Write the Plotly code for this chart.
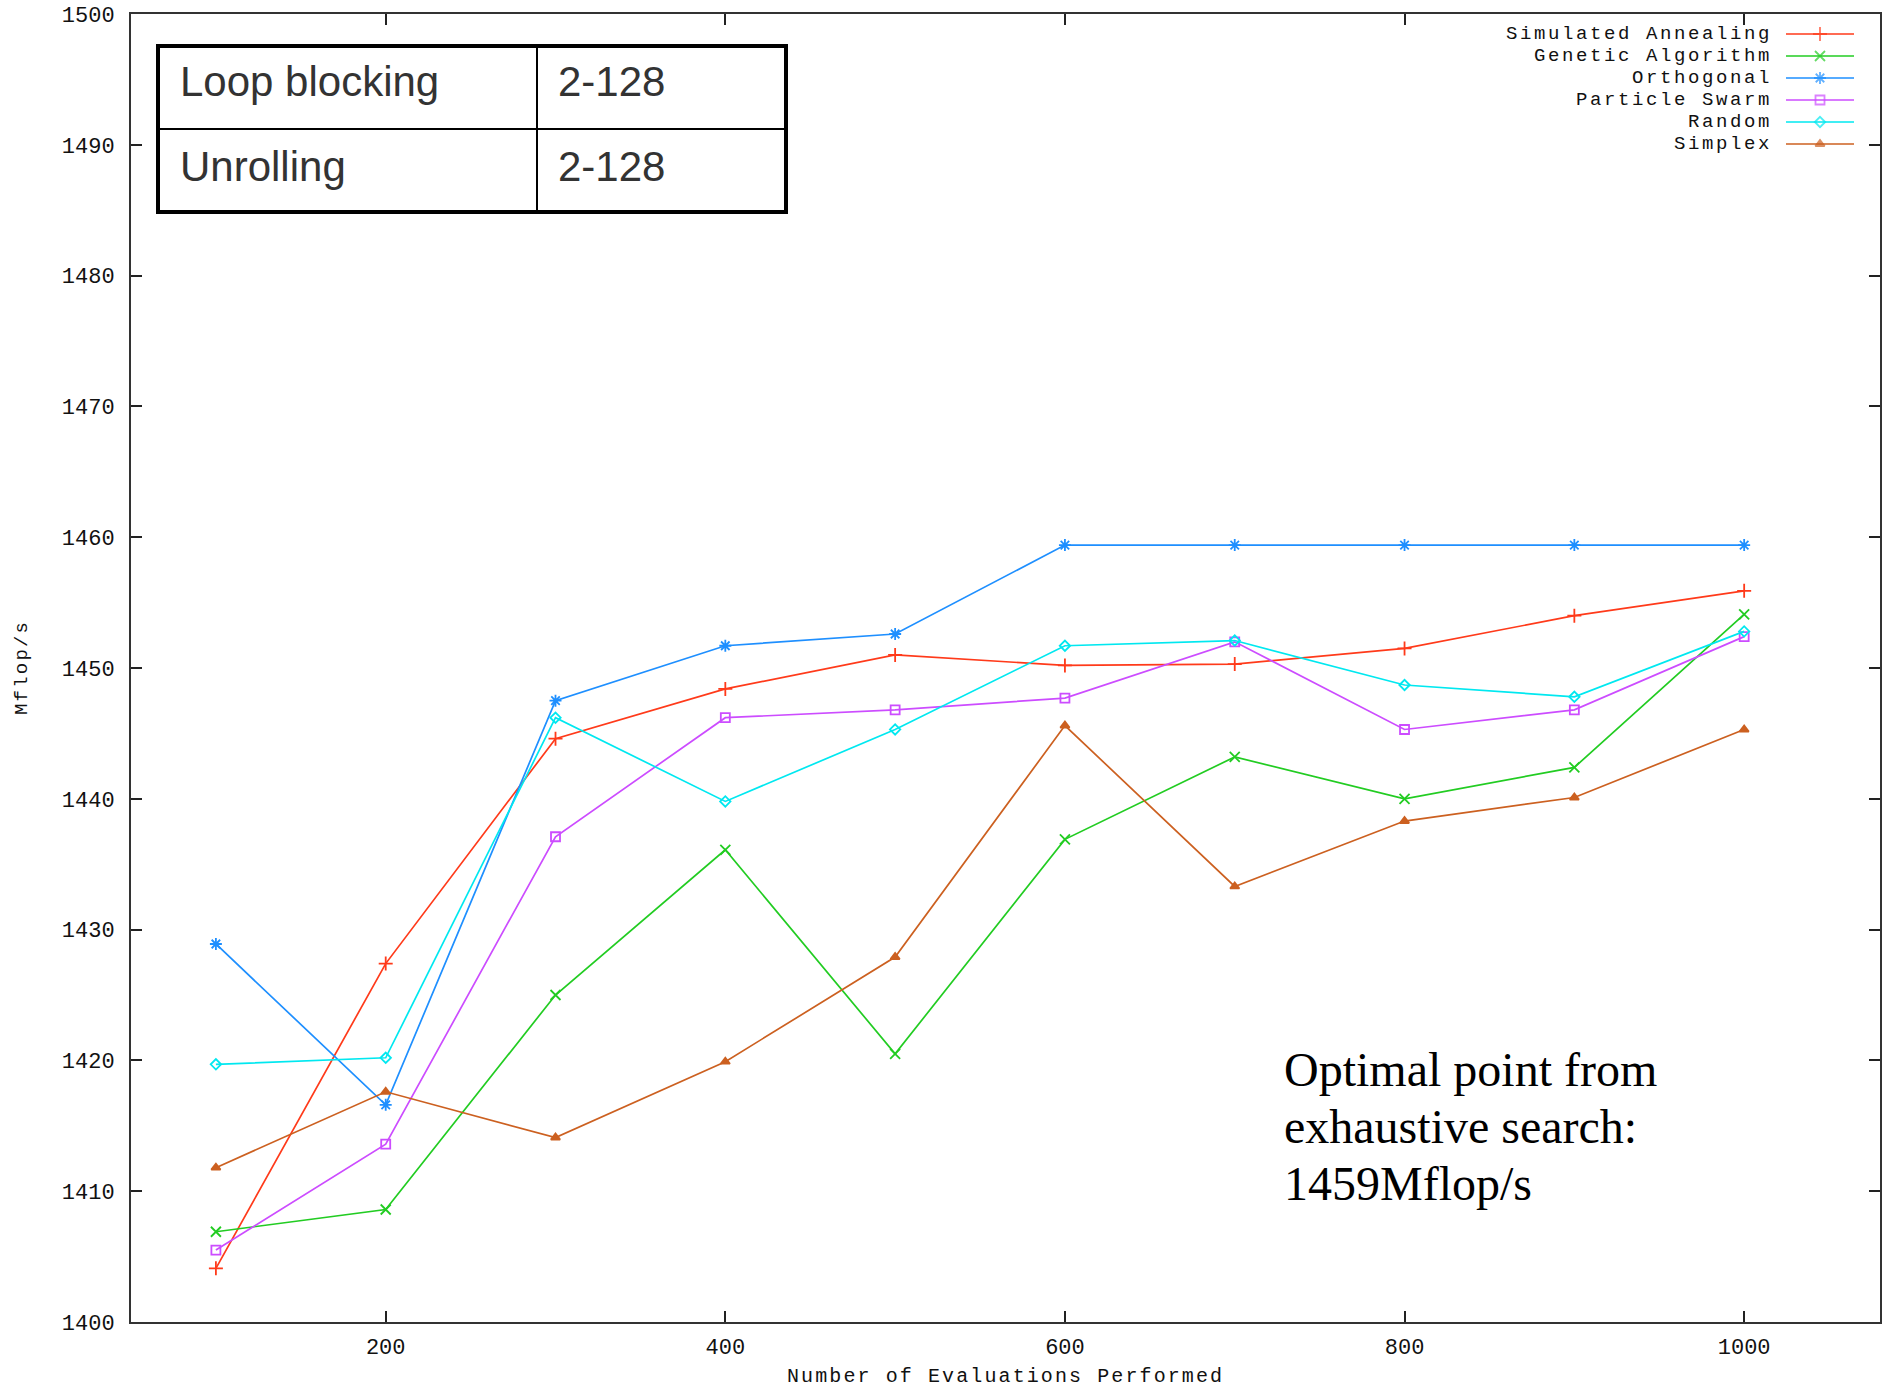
import plotly.graph_objects as go

# ---------------- data ----------------
evaluations = [100, 200, 300, 400, 500, 600, 700, 800, 900, 1000]

simulated_annealing = [1404.1, 1427.4, 1444.6, 1448.4, 1451.0, 1450.2, 1450.3, 1451.5, 1454.0, 1455.9]
genetic_algorithm   = [1406.9, 1408.6, 1425.0, 1436.1, 1420.5, 1436.9, 1443.2, 1440.0, 1442.4, 1454.1]
orthogonal          = [1428.9, 1416.6, 1447.5, 1451.7, 1452.6, 1459.4, 1459.4, 1459.4, 1459.4, 1459.4]
particle_swarm      = [1405.5, 1413.6, 1437.1, 1446.2, 1446.8, 1447.7, 1452.0, 1445.3, 1446.8, 1452.4]
random_search       = [1419.7, 1420.2, 1446.2, 1439.8, 1445.3, 1451.7, 1452.1, 1448.7, 1447.8, 1452.8]
simplex             = [1411.8, 1417.6, 1414.1, 1419.9, 1427.9, 1445.6, 1433.3, 1438.3, 1440.1, 1445.3]

series_names = ["Simulated Annealing", "Genetic Algorithm", "Orthogonal",
                "Particle Swarm", "Random", "Simplex"]
series_values = [simulated_annealing, genetic_algorithm, orthogonal,
                 particle_swarm, random_search, simplex]

x_ticks = [200, 400, 600, 800, 1000]
y_ticks = [1400, 1410, 1420, 1430, 1440, 1450, 1460, 1470, 1480, 1490, 1500]

table_rows = [["Loop blocking", "2-128"], ["Unrolling", "2-128"]]
note_lines = ["Optimal point from", "exhaustive search:", "1459Mflop/s"]

# ---------------- styles ----------------
colors = ["#ff3a1a", "#22cc22", "#1e8fff", "#cc4cff", "#00e8f0", "#cc6020"]
symbols = ["cross-thin-open", "x-thin-open", "asterisk-open", "square-open", "diamond-open", "triangle-up"]
msizes = [10, 10, 10, 9, 8, 8]

W, H = 1890, 1390
L, R, T, B = 131, 1880, 14, 1322   # plot area in pixels
MONO = "Liberation Mono, DejaVu Sans Mono, monospace"


def px(xp):
    return (xp - L) / (R - L)


def py(yp):
    return (B - yp) / (B - T)


def spaced(txt, ls):
    return '<span style="letter-spacing:%.1fpx">%s</span>' % (ls, txt)


fig = go.Figure()

for name, vals, c, s, ms in zip(series_names, series_values, colors, symbols, msizes):
    fig.add_trace(go.Scatter(
        x=evaluations, y=vals, name=name, mode="lines+markers",
        line=dict(color=c, width=1.7),
        marker=dict(symbol=s, size=ms, color=c, line=dict(color=c, width=1.8)),
        showlegend=False, cliponaxis=False,
    ))

# ---------------- custom legend (text left, sample right) ----------------
legend_rows_y = [34, 56, 78, 100, 122, 144]
annotations = []
for name, c, s, ms, yl in zip(series_names, colors, symbols, msizes, legend_rows_y):
    fig.add_trace(go.Scatter(
        x=[1786, 1820, 1854], y=[yl, yl, yl], mode="lines+markers",
        line=dict(color=c, width=1.7),
        marker=dict(symbol=s, size=[0, ms, 0], color=c, line=dict(color=c, width=1.8)),
        xaxis="x2", yaxis="y2", showlegend=False, hoverinfo="skip", cliponaxis=False,
    ))
    annotations.append(dict(
        x=px(1774), y=py(yl), xref="paper", yref="paper", xanchor="right", yanchor="middle",
        text=spaced(name, 2.6), showarrow=False,
        font=dict(family=MONO, size=19, color="#111111"),
    ))

# ---------------- table ----------------
shapes = []
tx0, tx1, ty0, ty1, tmidx, tmidy = 158, 786, 46, 212, 537, 129
shapes.append(dict(type="rect", xref="paper", yref="paper",
                   x0=px(tx0), x1=px(tx1), y0=py(ty0), y1=py(ty1),
                   line=dict(color="#000000", width=4), fillcolor="rgba(0,0,0,0)"))
shapes.append(dict(type="line", xref="paper", yref="paper",
                   x0=px(tmidx), x1=px(tmidx), y0=py(ty0), y1=py(ty1),
                   line=dict(color="#000000", width=2)))
shapes.append(dict(type="line", xref="paper", yref="paper",
                   x0=px(tx0), x1=px(tx1), y0=py(tmidy), y1=py(tmidy),
                   line=dict(color="#000000", width=2)))
row_centers = [82, 166]
for row, yc in zip(table_rows, row_centers):
    for txt, xl in zip(row, [178, 556]):
        annotations.append(dict(
            x=px(xl), y=py(yc), xref="paper", yref="paper", xanchor="left", yanchor="middle",
            text=txt, showarrow=False,
            font=dict(family="Liberation Sans Narrow, Liberation Sans, Arial, sans-serif", size=42, color="#333333"),
        ))

# ---------------- note ----------------
for line, yc in zip(note_lines, [1069, 1126, 1183]):
    annotations.append(dict(
        x=px(1282), y=py(yc), xref="paper", yref="paper", xanchor="left", yanchor="middle",
        text=line, showarrow=False,
        font=dict(family="Liberation Serif, Times New Roman, serif", size=48, color="#000000"),
    ))

# ---------------- axis titles ----------------
annotations.append(dict(
    x=px(1005), y=py(1376), xref="paper", yref="paper", xanchor="center", yanchor="middle",
    text=spaced("Number of Evaluations Performed", 2.1), showarrow=False,
    font=dict(family=MONO, size=20, color="#111111"),
))
annotations.append(dict(
    x=px(22), y=py(668), xref="paper", yref="paper", xanchor="center", yanchor="middle",
    text=spaced("Mflop/s", 2.2), showarrow=False, textangle=-90,
    font=dict(family=MONO, size=19, color="#111111"),
))

fig.update_layout(
    width=W, height=H,
    margin=dict(l=L, r=W - R, t=T, b=H - B, pad=0, autoexpand=False),
    paper_bgcolor="white", plot_bgcolor="white",
    showlegend=False,
    xaxis=dict(
        range=[50, 1080], tickvals=x_ticks, ticktext=[str(v) for v in x_ticks],
        ticks="inside", ticklen=11, tickwidth=1.5, tickcolor="#222222",
        showline=True, linecolor="#333333", linewidth=2, mirror="ticks",
        showgrid=False, zeroline=False, automargin=False,
        tickfont=dict(family=MONO, size=22, color="#111111"),
        ticklabelstandoff=4,
    ),
    yaxis=dict(
        range=[1400, 1500], tickvals=y_ticks, ticktext=[str(v) for v in y_ticks],
        ticks="inside", ticklen=11, tickwidth=1.5, tickcolor="#222222",
        showline=True, linecolor="#333333", linewidth=2, mirror="ticks",
        showgrid=False, zeroline=False, automargin=False,
        tickfont=dict(family=MONO, size=22, color="#111111"),
        ticklabelstandoff=10,
    ),
    xaxis2=dict(range=[L, R], overlaying="x", visible=False, fixedrange=True),
    yaxis2=dict(range=[B, T], overlaying="y", visible=False, fixedrange=True),
    shapes=shapes,
    annotations=annotations,
)

fig.write_html("out.html")
